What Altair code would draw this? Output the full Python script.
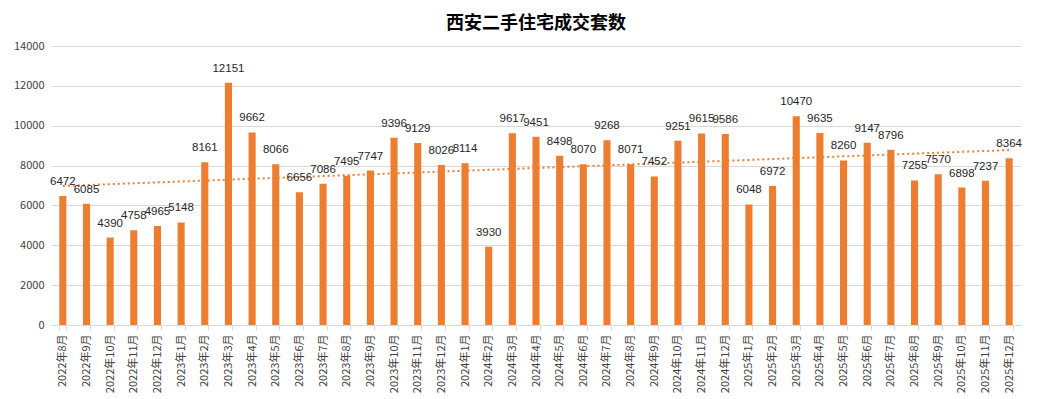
import altair as alt
import pandas as pd
import numpy as np

months = [
    "2022年8月", "2022年9月", "2022年10月", "2022年11月", "2022年12月",
    "2023年1月", "2023年2月", "2023年3月", "2023年4月", "2023年5月", "2023年6月",
    "2023年7月", "2023年8月", "2023年9月", "2023年10月", "2023年11月", "2023年12月",
    "2024年1月", "2024年2月", "2024年3月", "2024年4月", "2024年5月", "2024年6月",
    "2024年7月", "2024年8月", "2024年9月", "2024年10月", "2024年11月", "2024年12月",
    "2025年1月", "2025年2月", "2025年3月", "2025年4月", "2025年5月", "2025年6月",
    "2025年7月", "2025年8月", "2025年9月", "2025年10月", "2025年11月", "2025年12月",
]
values = [
    6472, 6085, 4390, 4758, 4965,
    5148, 8161, 12151, 9662, 8066, 6656,
    7086, 7495, 7747, 9396, 9129, 8026,
    8114, 3930, 9617, 9451, 8498, 8070,
    9268, 8071, 7452, 9251, 9615, 9586,
    6048, 6972, 10470, 9635, 8260, 9147,
    8796, 7255, 7570, 6898, 7237, 8364,
]
y_ticks = [0, 2000, 4000, 6000, 8000, 10000, 12000, 14000]

idx = np.arange(len(values))
slope, intercept = np.polyfit(idx, values, 1)
df = pd.DataFrame({"month": months, "value": values, "trend": slope * idx + intercept})

ORANGE = "#ED7D31"
FONT = "Noto Sans CJK SC"

x_enc = alt.X(
    "month:N", sort=months, title=None,
    scale=alt.Scale(paddingInner=0.7, paddingOuter=0.35),
    axis=alt.Axis(
        labelAngle=270, labelAlign="right", labelBaseline="middle",
        labelFontSize=11, labelColor="#404040", labelFont=FONT, labelPadding=4,
        tickBand="extent", tickColor="#d9d9d9", tickSize=5,
        domainColor="#d9d9d9", grid=False,
    ),
)
y_scale = alt.Scale(domain=[0, 14000], nice=False)
y_axis = alt.Axis(
    values=y_ticks, format="d", labelFontSize=11, labelColor="#404040",
    labelFont=FONT, ticks=False, domain=False, gridColor="#d9d9d9",
    labelPadding=7, labelOverlap=False, tickCount=8,
)

base = alt.Chart(df)
bars = base.mark_bar(color=ORANGE).encode(
    x=x_enc, y=alt.Y("value:Q", title=None, scale=y_scale, axis=y_axis)
)
labels = base.mark_text(
    dy=-14, fontSize=11.5, font="Liberation Sans", color="#262626"
).encode(
    x=alt.X("month:N", sort=months),
    y=alt.Y("value:Q", title=None, scale=y_scale, axis=y_axis),
    text="value:Q",
)
trend = base.mark_line(
    color=ORANGE, strokeDash=[2, 3], strokeWidth=2
).encode(
    x=alt.X("month:N", sort=months),
    y=alt.Y("trend:Q", title=None, scale=y_scale, axis=y_axis),
)

chart = (
    alt.layer(bars, trend, labels)
    .properties(
        width=970, height=279,
        title=alt.TitleParams(
            "西安二手住宅成交套数", fontSize=18, font=FONT, fontWeight="bold",
            color="#000000", anchor="middle", offset=7,
        ),
        padding={"top": 7, "left": 5, "right": 5, "bottom": 0},
    )
    .configure_view(stroke=None)
)

chart.save("out.html", embed_options={"renderer": "svg", "actions": False})
